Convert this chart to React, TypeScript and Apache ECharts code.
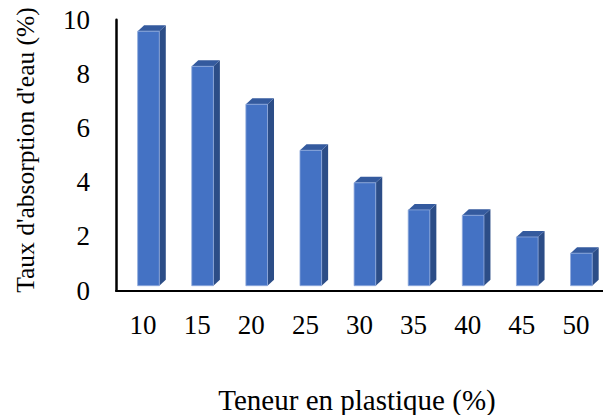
import React, { useEffect, useRef } from "react";
import * as echarts from "echarts";

// Plastic content (%) and water absorption rate (%)
const categories = ["10", "15", "20", "25", "30", "35", "40", "45", "50"];
const absorption = [9.4, 8.1, 6.7, 5.0, 3.8, 2.8, 2.6, 1.8, 1.2];
const yTicks = [0, 2, 4, 6, 8, 10];

const FONT = '"Liberation Serif", "Times New Roman", serif';

export default function App() {
  const ref = useRef<HTMLDivElement>(null);

  useEffect(() => {
    if (!ref.current) return;
    const chart = echarts.init(ref.current, null, { renderer: "svg" });

    // Excel-like 3D column: front face, darker side face and top face
    const renderItem = (params: any, api: any) => {
      const idx = api.value(0);
      const val = api.value(1);
      const base = api.coord([idx, 0]);
      const top = api.coord([idx, val]);
      const band = api.size([1, 0])[0];
      const w = band * 0.4;
      const x0 = base[0] - band * 0.1;
      const lift = 4.8;
      const yb = base[1] - lift;
      const yt = top[1] - lift;
      const dx = 6.5;
      const dy = -6;
      return {
        type: "group",
        children: [
          {
            type: "polygon",
            shape: {
              points: [
                [x0 + w, yt],
                [x0 + w + dx, yt + dy],
                [x0 + w + dx, yb + dy],
                [x0 + w, yb],
              ],
            },
            style: { fill: "#2c4d87" },
          },
          {
            type: "polygon",
            shape: {
              points: [
                [x0, yt],
                [x0 + dx, yt + dy],
                [x0 + w + dx, yt + dy],
                [x0 + w, yt],
              ],
            },
            style: { fill: "#345a9e" },
          },
          {
            type: "rect",
            shape: { x: x0, y: yt, width: w, height: yb - yt },
            style: { fill: "#4472c4", stroke: "#8faadc", lineWidth: 0.8 },
          },
        ],
      };
    };

    chart.setOption({
      animation: false,
      backgroundColor: "#ffffff",
      grid: { left: 116, right: -8, top: 19.7, bottom: 124.5, containLabel: false },
      xAxis: {
        type: "category",
        data: categories,
        boundaryGap: true,
        axisLine: { show: true, lineStyle: { color: "#000", width: 2.2 } },
        axisTick: { show: false },
        axisLabel: {
          color: "#000",
          fontFamily: FONT,
          fontSize: 27,
          margin: 21,
        },
        splitLine: { show: false },
      },
      yAxis: {
        type: "value",
        min: yTicks[0],
        max: yTicks[yTicks.length - 1],
        interval: 2,
        axisLine: { show: true, lineStyle: { color: "#000", width: 2.5 } },
        axisTick: { show: false },
        axisLabel: {
          color: "#000",
          fontFamily: FONT,
          fontSize: 27,
          margin: 26,
        },
        splitLine: { show: false },
      },
      graphic: [
        {
          type: "text",
          x: 357,
          y: 400,
          style: {
            text: "Teneur en plastique (%)",
            fontFamily: FONT,
            fontSize: 29,
            fill: "#000",
            textAlign: "center",
            textVerticalAlign: "middle",
          },
        },
        {
          type: "text",
          x: 25,
          y: 150,
          rotation: Math.PI / 2,
          style: {
            text: "Taux d'absorption d'eau (%)",
            fontFamily: FONT,
            fontSize: 25.5,
            fill: "#000",
            textAlign: "center",
            textVerticalAlign: "middle",
          },
        },
      ],
      series: [
        {
          type: "custom",
          renderItem,
          data: absorption.map((v, i) => [i, v]),
          encode: { x: 0, y: 1 },
          clip: false,
        },
      ],
    });

    return () => chart.dispose();
  }, []);

  return (
    <div
      ref={ref}
      style={{ width: 603, height: 415, position: "absolute", left: 0, top: 0 }}
    />
  );
}
